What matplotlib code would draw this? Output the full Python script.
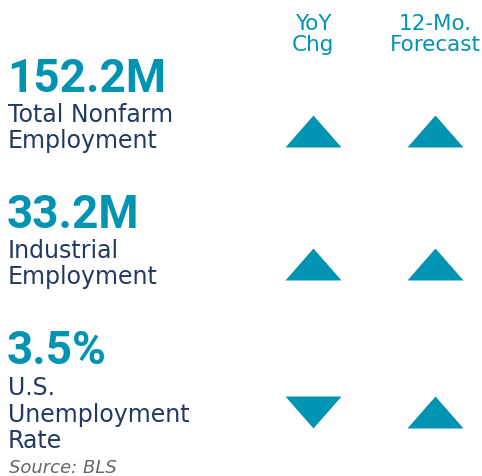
import matplotlib.pyplot as plt
from matplotlib.path import Path

# values
values = ['152.2M', '33.2M', '3.5%']
labels = ['Total Nonfarm\nEmployment', 'Industrial\nEmployment', 'U.S.\nUnemployment\nRate']
yoy = ['up', 'up', 'down']
forecast = ['up', 'up', 'up']
col_heads = ['YoY\nChg', '12-Mo.\nForecast']
source = 'Source: BLS'

teal = '#0093b2'
navy = '#213a63'
grey = '#666666'

# layout in pixels (y grows downwards)
row_value_y = [92, 228, 364]
row_label_y = [148, 284, 448]   # baseline of last label line
row_tri_y = [132, 265, 413]
col_x = [313, 435]

up_tri = Path([(-1, -0.57), (1, -0.57), (0, 0.57), (-1, -0.57)],
              [Path.MOVETO, Path.LINETO, Path.LINETO, Path.CLOSEPOLY])
down_tri = Path([(-1, 0.57), (1, 0.57), (0, -0.57), (-1, 0.57)],
                [Path.MOVETO, Path.LINETO, Path.LINETO, Path.CLOSEPOLY])

fig = plt.figure(figsize=(4.82, 4.77), dpi=100)
ax = fig.add_axes([0, 0, 1, 1])
ax.set_xlim(0, 482)
ax.set_ylim(477, 0)
ax.axis('off')

plt.rcParams['font.family'] = ['DejaVu Sans']

for x, h in zip(col_x, col_heads):
    ax.text(x, 51, h, color=teal, fontsize=15.5, ha='center', va='baseline',
            linespacing=1.05)

for i in range(len(values)):
    ax.text(7, row_value_y[i], values[i], color=teal, fontsize=33,
            fontweight='bold', family='Roboto', ha='left', va='baseline')
    ax.text(8, row_label_y[i], labels[i], color=navy, fontsize=17,
            ha='left', va='baseline', linespacing=1.13)
    for x, d in zip(col_x, [yoy[i], forecast[i]]):
        m = up_tri if d == 'up' else down_tri
        ax.scatter([x], [row_tri_y[i]], marker=m, s=1630, color=teal,
                   linewidths=0)

ax.text(9, 473, source, color=grey, fontsize=13, style='italic',
        ha='left', va='baseline')

fig.savefig('out.png', dpi=100)
